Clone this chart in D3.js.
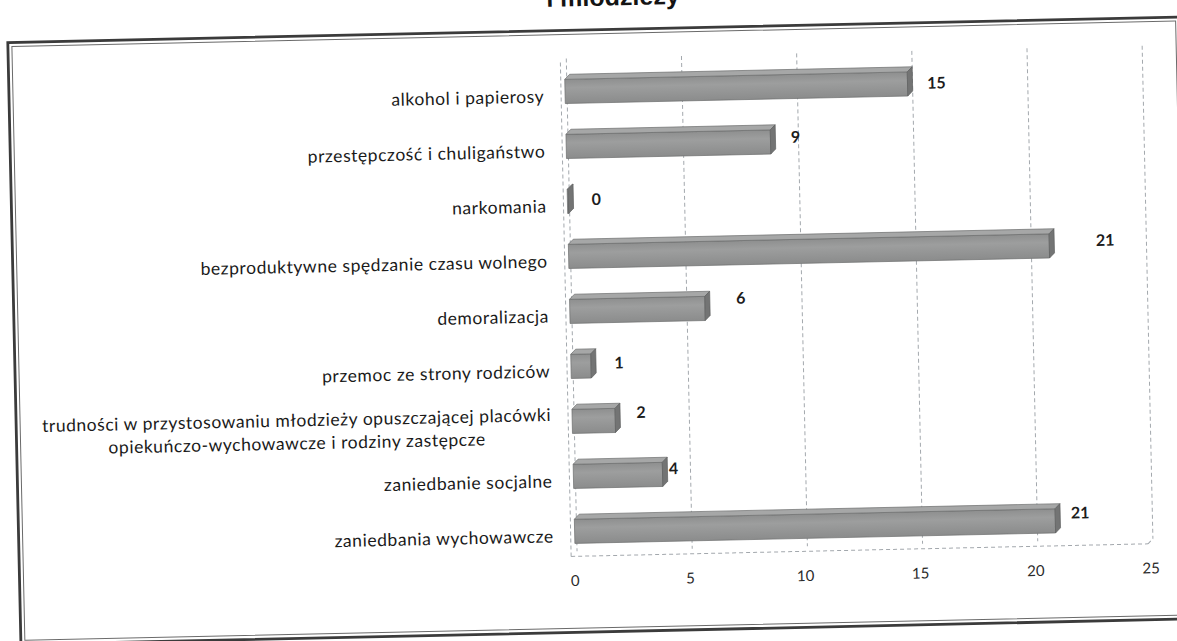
<!doctype html>
<html lang='pl'>
<head>
<meta charset='UTF-8'>
<title>Problemy dzieci i młodzieży</title>
<script src='https://cdn.jsdelivr.net/npm/d3@7/dist/d3.min.js'></script>
<style>
  body { margin: 0; background: #fff; }
</style>
</head>
<body>
<div id='chart'></div>
<script>
// dane
const categories = [
  'alkohol i papierosy',
  'przestępczość i chuligaństwo',
  'narkomania',
  'bezproduktywne spędzanie czasu wolnego',
  'demoralizacja',
  'przemoc ze strony rodziców',
  'trudności w przystosowaniu młodzieży opuszczającej placówki\nopiekuńczo-wychowawcze i rodziny zastępcze',
  'zaniedbanie socjalne',
  'zaniedbania wychowawcze'
];
const values = [15, 9, 0, 21, 6, 1, 2, 4, 21];
const xTicks = [0, 5, 10, 15, 20, 25];
const titleText = 'i młodzieży';
// przesunięcia etykiet wartości (ręcznie ułożone na oryginale)
const labelShiftX = [24, 20, 27, 51, 31, 23, 21, 6, 20];
const labelShiftY = [2, -2, 1, -2, -7, 0, -5, -3, -5];

const W = 1177, H = 641;
const FRAME = { left: 14, top: 30, right: 1186, bottom: 632 };
const PLOT = { left: 572, right: 1148, top: 58, bottom: 556 };
const DEPTH = 5;

function draw() {
  const svg = d3.select('#chart').append('svg')
    .attr('width', W).attr('height', H);
  svg.append('rect').attr('width', W).attr('height', H).attr('fill', '#fff');

  const defs = svg.append('defs');
  const grad = defs.append('linearGradient').attr('id', 'barFace')
    .attr('x1', 0).attr('y1', 0).attr('x2', 0).attr('y2', 1);
  grad.append('stop').attr('offset', '0%').attr('stop-color', '#8e8f8f');
  grad.append('stop').attr('offset', '35%').attr('stop-color', '#9d9e9e');
  grad.append('stop').attr('offset', '100%').attr('stop-color', '#8b8c8c');

  // skan jest lekko obrócony
  const g = svg.append('g').attr('transform', 'rotate(-1.25,588,320)');

  // tytuł (ucięty u góry)
  g.append('text')
    .attr('x', 620).attr('y', 6)
    .attr('text-anchor', 'middle')
    .style('font', 'bold 25px "Liberation Sans", Arial, sans-serif')
    .attr('fill', '#141414')
    .text(titleText);

  // podwójna ramka
  g.append('rect')
    .attr('x', FRAME.left).attr('y', FRAME.top)
    .attr('width', FRAME.right - FRAME.left).attr('height', FRAME.bottom - FRAME.top)
    .attr('fill', 'none').attr('stroke', '#3b3b3b').attr('stroke-width', 2.8);
  g.append('rect')
    .attr('x', FRAME.left + 4).attr('y', FRAME.top + 4)
    .attr('width', FRAME.right - FRAME.left - 8).attr('height', FRAME.bottom - FRAME.top - 8)
    .attr('fill', 'none').attr('stroke', '#6a6a6a').attr('stroke-width', 1);

  const x = d3.scaleLinear().domain([0, 25]).range([PLOT.left, PLOT.right]);
  const y = d3.scaleBand().domain(categories)
    .range([PLOT.top + 3, PLOT.bottom])
    .paddingInner(0.47).paddingOuter(0.235);

  // siatka
  const grid = g.append('g')
    .attr('stroke', '#a3a8ad').attr('stroke-width', 1)
    .attr('stroke-dasharray', '4,3').attr('fill', 'none');
  grid.selectAll('line.v').data(xTicks).join('line')
    .attr('class', 'v')
    .attr('x1', d => x(d)).attr('x2', d => x(d))
    .attr('y1', PLOT.top).attr('y2', PLOT.bottom - DEPTH);
  // ściana boczna i podłoga
  grid.append('line')
    .attr('x1', x(0) - DEPTH - 1).attr('x2', x(0) - DEPTH - 1)
    .attr('y1', PLOT.top + 4).attr('y2', PLOT.bottom);
  grid.append('line')
    .attr('x1', x(0) - DEPTH - 1).attr('x2', x(25) - DEPTH)
    .attr('y1', PLOT.bottom).attr('y2', PLOT.bottom);
  grid.append('line')
    .attr('x1', x(25) - DEPTH).attr('x2', x(25))
    .attr('y1', PLOT.bottom).attr('y2', PLOT.bottom - DEPTH);

  // słupki 3D
  const bh = y.bandwidth();
  const bars = g.append('g');
  categories.forEach(function (c, i) {
    const x0 = x(0) - 2;
    const xe = Math.max(x(values[i]), x0 + DEPTH + 1);
    const yt = y(c);
    const yb = yt + bh;
    const b = bars.append('g');
    // przód
    b.append('rect')
      .attr('x', x0).attr('y', yt + DEPTH)
      .attr('width', xe - DEPTH - x0).attr('height', bh - DEPTH)
      .attr('fill', 'url(#barFace)').attr('stroke', '#6d6e6e').attr('stroke-width', 0.7);
    // góra
    b.append('path')
      .attr('d', 'M' + x0 + ',' + (yt + DEPTH) + 'L' + (x0 + DEPTH) + ',' + yt +
        'L' + xe + ',' + yt + 'L' + (xe - DEPTH) + ',' + (yt + DEPTH) + 'Z')
      .attr('fill', '#a6a7a7').attr('stroke', '#6d6e6e').attr('stroke-width', 0.7);
    // bok
    b.append('path')
      .attr('d', 'M' + (xe - DEPTH) + ',' + (yt + DEPTH) + 'L' + xe + ',' + yt +
        'L' + xe + ',' + (yb - DEPTH) + 'L' + (xe - DEPTH) + ',' + yb + 'Z')
      .attr('fill', '#737474').attr('stroke', '#5e5f5f').attr('stroke-width', 0.7);
  });

  // etykiety wartości
  g.append('g').selectAll('text').data(values).join('text')
    .attr('x', (d, i) => x(d) + labelShiftX[i])
    .attr('y', (d, i) => y(categories[i]) + bh / 2 + labelShiftY[i])
    .attr('dy', '0.35em')
    .attr('text-anchor', 'middle')
    .style('font', 'bold 16px Lato, "Open Sans", sans-serif')
    .attr('fill', '#1c1c1c')
    .text(d => d);

  // oś X
  const xAxis = d3.axisBottom(x).tickValues(xTicks).tickSize(0).tickPadding(0);
  const gx = g.append('g')
    .attr('transform', 'translate(-3,' + (PLOT.bottom + 19) + ')')
    .call(xAxis);
  gx.select('.domain').remove();
  gx.selectAll('text')
    .style('font', '15px Lato, "Open Sans", sans-serif')
    .attr('fill', '#2a2a2a');

  // oś kategorii
  const yAxis = d3.axisLeft(y).tickSize(0).tickPadding(0).tickFormat('');
  const gy = g.append('g')
    .attr('transform', 'translate(549,0)')
    .call(yAxis);
  gy.select('.domain').remove();
  gy.selectAll('.tick').each(function (c) {
    const t = d3.select(this).append('text')
      .style('font', '17.5px Lato, "Open Sans", sans-serif')
      .style('letter-spacing', '0.55px')
      .attr('fill', '#1a1a1a');
    const lines = c.split('\n');
    const lh = 23;
    const spans = lines.map(function (s, k) {
      return t.append('tspan').text(s)
        .attr('y', 7 + (k - (lines.length - 1) / 2) * lh)
        .attr('dy', '0.35em');
    });
    const widths = spans.map(sp => sp.node().getComputedTextLength());
    const maxW = d3.max(widths);
    spans.forEach(function (sp) {
      sp.attr('x', -maxW / 2).attr('text-anchor', 'middle');
    });
  });
}

draw();
</script>
</body>
</html>
